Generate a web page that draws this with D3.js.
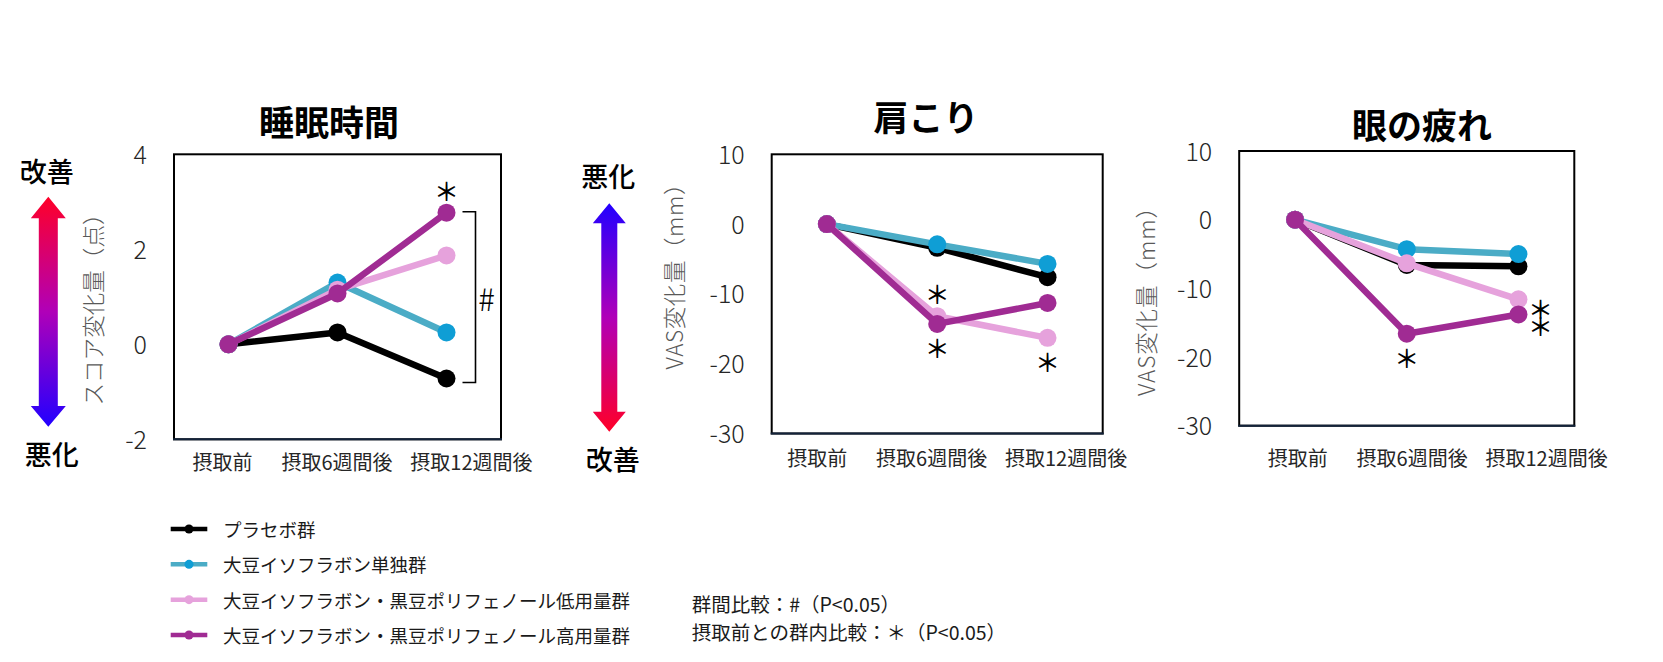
<!DOCTYPE html>
<html><head><meta charset="utf-8">
<script src="https://cdn.jsdelivr.net/npm/d3@7"></script>
<style>
html,body{margin:0;padding:0;background:#fff;}
svg{display:block;}
</style></head>
<body>
<svg id="chart" width="1663" height="662"></svg>
<script>
// ---------------- DATA ----------------
const categories = ["摂取前", "摂取6週間後", "摂取12週間後"];
const seriesNames = ["プラセボ群", "大豆イソフラボン単独群",
  "大豆イソフラボン・黒豆ポリフェノール低用量群", "大豆イソフラボン・黒豆ポリフェノール高用量群"];

// 睡眠時間 (score change, points)
const sleepPlacebo = [0, 0.25, -0.72];
const sleepSoy     = [0, 1.30, 0.25];
const sleepLow     = [0, 1.15, 1.87];
const sleepHigh    = [0, 1.07, 2.77];
// 肩こり (VAS change, mm)
const shoulderPlacebo = [0, -3.4, -7.6];
const shoulderSoy     = [0, -2.9, -5.7];
const shoulderLow     = [0, -13.2, -16.3];
const shoulderHigh    = [0, -14.3, -11.3];
// 眼の疲れ (VAS change, mm)
const eyePlacebo = [0, -6.6, -6.8];
const eyeSoy     = [0, -4.3, -5.0];
const eyeLow     = [0, -6.35, -11.6];
const eyeHigh    = [0, -16.6, -13.8];

const sleepTicks = [-2, 0, 2, 4];
const vasTicks = [-30, -20, -10, 0, 10];

// significance marks (series index, category index, side, number of stars)
const sleepMarks = [{series: 3, cat: 2, side: "above", n: 1}];
const shoulderMarks = [{series: 2, cat: 1, side: "above", n: 1}, {series: 3, cat: 1, side: "below", n: 1}, {series: 2, cat: 2, side: "below", n: 1}];
const eyeMarks = [{series: 3, cat: 1, side: "below", n: 1}, {series: 3, cat: 2, side: "right", n: 2}];
const sleepBrackets = [{cat: 2, from: 3, to: 0, label: "#"}];

const notes = ["群間比較：#（P<0.05）", "摂取前との群内比較：＊（P<0.05）"];

// ---------------- STYLE ----------------
const lineColors = ["#000000", "#4BACC6", "#E6A2DC", "#A02B93"];
const markerColors = ["#000000", "#0F9ED5", "#E6A2DC", "#A02B93"];
const JP = "'Noto Sans CJK JP','Noto Sans',sans-serif";

const svg = d3.select("#chart");
const defs = svg.append("defs");

function makeGrad(id, topColor, bottomColor) {
  const g = defs.append("linearGradient").attr("id", id)
    .attr("x1", 0).attr("y1", 0).attr("x2", 0).attr("y2", 1);
  g.append("stop").attr("offset", "0%").attr("stop-color", topColor);
  g.append("stop").attr("offset", "50%").attr("stop-color", "#b000b8");
  g.append("stop").attr("offset", "100%").attr("stop-color", bottomColor);
}
makeGrad("gRedTop", "#ff0028", "#2200ff");
makeGrad("gBlueTop", "#2200ff", "#ff0028");

function drawArrow(cx, tipTop, baseTop, baseBot, tipBot, headHalf, shaftHalf, grad) {
  const pts = [
    [cx, tipTop], [cx + headHalf, baseTop], [cx + shaftHalf, baseTop],
    [cx + shaftHalf, baseBot], [cx + headHalf, baseBot], [cx, tipBot],
    [cx - headHalf, baseBot], [cx - shaftHalf, baseBot], [cx - shaftHalf, baseTop],
    [cx - headHalf, baseTop]
  ];
  svg.append("path").attr("d", d3.line()(pts) + "Z").attr("fill", `url(#${grad})`);
}

const panels = [
  {
    title: "睡眠時間", tx: 329, ty: 120,
    box: {l: 174, t: 154.3, r: 501, b: 439.3},
    domain: [-2, 4], ticks: sleepTicks,
    ytitle: "スコア変化量（点）", ytx: 91.7, yty: 304, ylen: 203,
    labelStart: 78, labelY: 463,
    series: [sleepPlacebo, sleepSoy, sleepLow, sleepHigh],
    marks: sleepMarks, brackets: sleepBrackets
  },
  {
    title: "肩こり", tx: 926, ty: 115.5,
    box: {l: 771.7, t: 154.3, r: 1102.7, b: 433.5},
    domain: [-30, 10], ticks: vasTicks,
    ytitle: "VAS変化量（mm）", ytx: 673.3, yty: 271, ylen: 197,
    labelStart: 75, labelY: 458.3,
    series: [shoulderPlacebo, shoulderSoy, shoulderLow, shoulderHigh],
    marks: shoulderMarks, brackets: []
  },
  {
    title: "眼の疲れ", tx: 1422, ty: 123,
    box: {l: 1239.2, t: 151, r: 1574.3, b: 425.7},
    domain: [-30, 10], ticks: vasTicks,
    ytitle: "VAS変化量（mm）", ytx: 1145, yty: 296, ylen: 200,
    labelStart: 88, labelY: 458.3,
    series: [eyePlacebo, eyeSoy, eyeLow, eyeHigh],
    marks: eyeMarks, brackets: []
  }
];

const markOffsets = {above: [0, -23], below: [0, 23], right: [22, -5.3]};
const starSize = 25, starStep = 17.7;

panels.forEach(p => {
  const b = p.box;
  const x = d3.scalePoint().domain(categories).range([b.l, b.r]).padding(0.5);
  const y = d3.scaleLinear().domain(p.domain).range([b.b, b.t]);

  // title
  svg.append("text").attr("x", p.tx).attr("y", p.ty)
    .attr("text-anchor", "middle").attr("dominant-baseline", "central")
    .attr("font-family", JP).attr("font-weight", 700).attr("font-size", 35)
    .attr("fill", "#000").text(p.title);

  // plot frame
  svg.append("rect").attr("x", b.l).attr("y", b.t)
    .attr("width", b.r - b.l).attr("height", b.b - b.t)
    .attr("fill", "none").attr("stroke", "#000").attr("stroke-width", 2);
  svg.append("line").attr("x1", b.l - 1).attr("x2", b.r + 1).attr("y1", b.b).attr("y2", b.b)
    .attr("stroke", "#13233a").attr("stroke-width", 2);

  // y axis labels
  const yAxis = svg.append("g").attr("transform", `translate(${b.l - 27},0)`)
    .call(d3.axisLeft(y).tickValues(p.ticks).tickSize(0).tickPadding(0).tickFormat(d3.format("d")));
  yAxis.select(".domain").remove();
  yAxis.selectAll("text").attr("font-family", JP).attr("font-weight", 300)
    .attr("font-size", 25).attr("fill", "#262626").attr("dy", "0.36em")
    .text(d => d < 0 ? "-" + Math.abs(d) : d);

  // y title
  svg.append("text").attr("transform", `translate(${p.ytx},${p.yty}) rotate(-90)`)
    .attr("text-anchor", "middle").attr("dominant-baseline", "central")
    .attr("font-family", JP).attr("font-weight", 300).attr("font-size", 22.5)
    .attr("textLength", p.ylen).attr("lengthAdjust", "spacing")
    .attr("fill", "#595959").text(p.ytitle);

  // x labels
  const xl = d3.scalePoint().domain(categories).range([b.l + p.labelStart, b.l + p.labelStart + 280]);
  const xAxis = svg.append("g").attr("transform", `translate(0,${p.labelY})`)
    .call(d3.axisBottom(xl).tickSize(0).tickPadding(0));
  xAxis.select(".domain").remove();
  xAxis.selectAll("text").attr("font-family", JP).attr("font-size", 20)
    .attr("fill", "#262626").attr("text-anchor", "end").attr("y", 0).attr("dy", "0.36em");

  // lines and markers
  const line = d3.line().x((d, i) => x(categories[i])).y(d => y(d));
  p.series.forEach((vals, si) => {
    const g = svg.append("g");
    g.append("path").attr("d", line(vals)).attr("fill", "none")
      .attr("stroke", lineColors[si]).attr("stroke-width", 6.5).attr("stroke-linejoin", "round");
    g.selectAll("circle").data(vals).join("circle")
      .attr("cx", (d, i) => x(categories[i])).attr("cy", d => y(d)).attr("r", 9)
      .attr("fill", markerColors[si]);
  });

  // asterisks
  p.marks.forEach(m => {
    const o = markOffsets[m.side];
    const mx = x(categories[m.cat]) + o[0];
    const my = y(p.series[m.series][m.cat]) + o[1];
    const t = svg.append("text")
      .attr("text-anchor", "middle").attr("dominant-baseline", "central")
      .attr("font-family", JP).attr("font-weight", 500).attr("font-size", starSize).attr("fill", "#000")
      .text("＊".repeat(m.n));
    if (m.n > 1) {
      // stacked vertically in a single text element
      t.attr("style", `writing-mode: vertical-rl; text-orientation: upright; letter-spacing: ${starStep - starSize}px`)
        .attr("x", mx).attr("y", my - starSize / 2 + m.n * starStep / 2);
    } else {
      t.attr("x", mx).attr("y", my);
    }
  });

  // brackets
  p.brackets.forEach(br => {
    const px = x(categories[br.cat]);
    const y1 = y(p.series[br.from][br.cat]) - 1;
    const y2 = y(p.series[br.to][br.cat]) + 4;
    svg.append("path")
      .attr("d", `M${px + 16},${y1}H${px + 29}V${y2}H${px + 16}`)
      .attr("fill", "none").attr("stroke", "#000").attr("stroke-width", 1.6);
    svg.append("text").attr("x", px + 40).attr("y", (y1 + y2) / 2)
      .attr("text-anchor", "middle").attr("dominant-baseline", "central")
      .attr("font-family", JP).attr("font-weight", 300).attr("font-size", 31)
      .attr("fill", "#000").text(br.label);
  });
});

// direction arrows
drawArrow(48.3, 196.7, 218.3, 406, 426.7, 17.5, 9.5, "gRedTop");
drawArrow(609.3, 203.3, 223.3, 411.7, 431.7, 16.5, 8, "gBlueTop");
const dirLabels = [
  {t: "改善", x: 46.7, y: 170}, {t: "悪化", x: 51.7, y: 453.3},
  {t: "悪化", x: 608.3, y: 175}, {t: "改善", x: 612.7, y: 458.3}
];
svg.selectAll(".dir").data(dirLabels).join("text").attr("class", "dir")
  .attr("x", d => d.x).attr("y", d => d.y)
  .attr("text-anchor", "middle").attr("dominant-baseline", "central")
  .attr("font-family", JP).attr("font-weight", 500).attr("font-size", 27)
  .attr("fill", "#000").text(d => d.t);

// legend
const legendY = d3.scalePoint().domain(seriesNames).range([529, 635]);
const lg = svg.append("g");
seriesNames.forEach((name, i) => {
  const yy = legendY(name);
  lg.append("line").attr("x1", 170.7).attr("x2", 207.3).attr("y1", yy).attr("y2", yy)
    .attr("stroke", lineColors[i]).attr("stroke-width", 4.5);
  lg.append("circle").attr("cx", 189).attr("cy", yy).attr("r", 4.5).attr("fill", markerColors[i]);
  lg.append("text").attr("x", 223).attr("y", yy).attr("dominant-baseline", "central")
    .attr("font-family", JP).attr("font-size", 18.5).attr("fill", "#1a1a1a").text(name);
});

// notes
svg.selectAll(".note").data(notes).join("text").attr("class", "note")
  .attr("x", 691.7).attr("y", (d, i) => 603 + i * 28.6)
  .attr("dominant-baseline", "central")
  .attr("font-family", JP).attr("font-size", 19.5).attr("fill", "#1a1a1a").text(d => d);
</script>
</body></html>
